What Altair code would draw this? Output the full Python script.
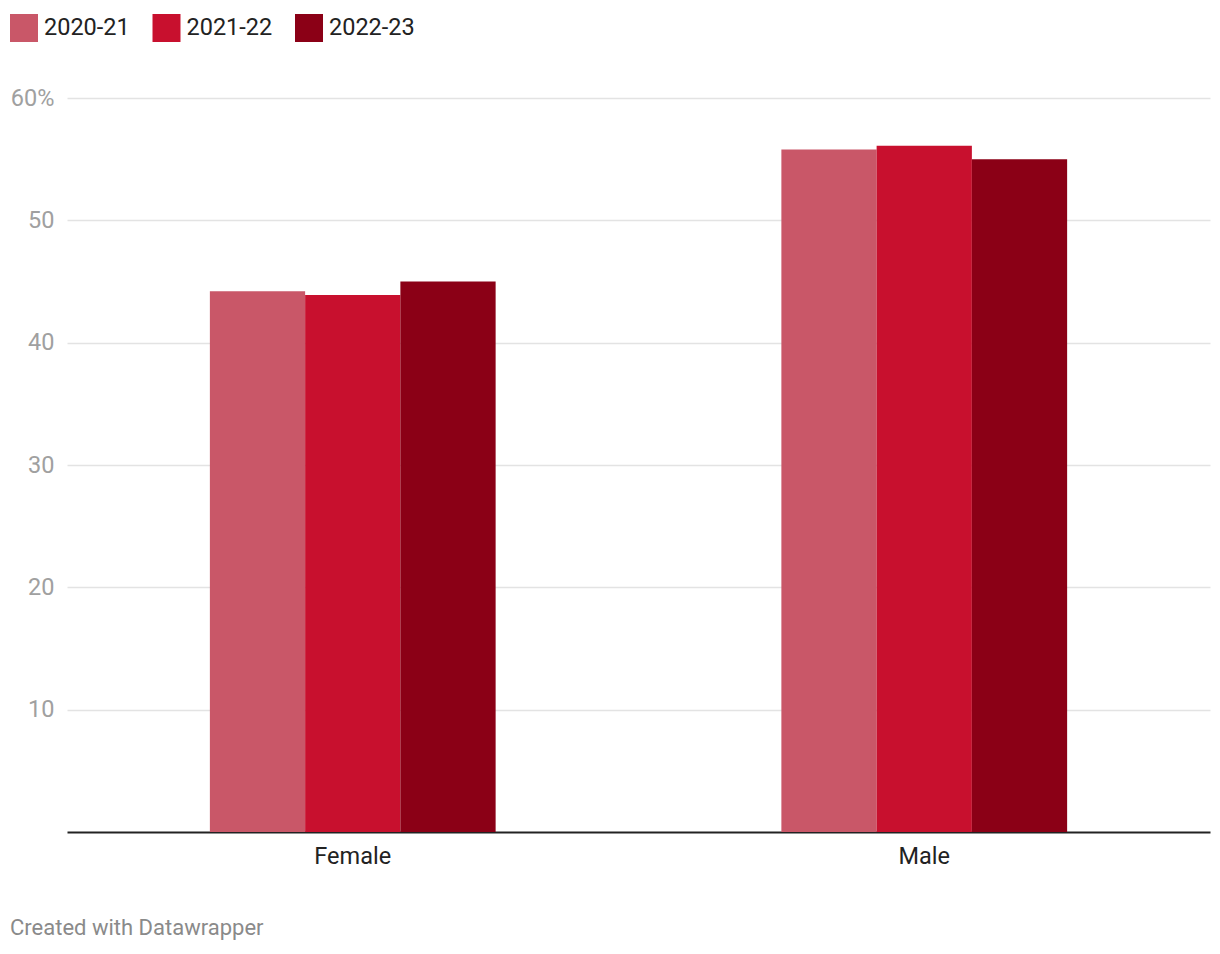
import altair as alt
import pandas as pd

genders = ["Female", "Male"]
years = ["2020-21", "2021-22", "2022-23"]
female_values = [44.2, 43.9, 45.0]
male_values = [55.8, 56.1, 55.0]
colors = ["#c95768", "#c8102e", "#8b0016"]
y_ticks = [10, 20, 30, 40, 50, 60]
footer = "Created with Datawrapper"

rows = []
for g, vals in zip(genders, [female_values, male_values]):
    for y, v in zip(years, vals):
        rows.append({"gender": g, "year": y, "value": v})
df = pd.DataFrame(rows)

FONT = "Roboto"
FS = 23.5

bars = alt.Chart(df).mark_bar(strokeWidth=0).encode(
    x=alt.X("gender:N", sort=genders, title=None,
            scale=alt.Scale(paddingInner=0.5, paddingOuter=0.25),
            axis=alt.Axis(labelAngle=0, labelFontSize=FS, labelColor="#222222",
                          labelFont=FONT, ticks=False, domainColor="#222222",
                          domainWidth=2, labelPadding=12, grid=False)),
    xOffset=alt.XOffset("year:N", sort=years, scale=alt.Scale(paddingInner=0, paddingOuter=0)),
    y=alt.Y("value:Q", title=None,
            scale=alt.Scale(domain=[0, 60], nice=False),
            axis=alt.Axis(values=y_ticks, domain=False, ticks=False,
                          labelExpr="datum.value == 60 ? '60%' : datum.label",
                          labelFontSize=FS, labelColor="#a0a0a0", labelFont=FONT,
                          labelPadding=13, gridColor="#e3e3e3", gridWidth=1.5)),
    color=alt.Color("year:N", sort=years,
                    scale=alt.Scale(domain=years, range=colors),
                    legend=alt.Legend(title=None, orient="none", direction="horizontal",
                                      legendX=-57, legendY=-84,
                                      symbolType="square", symbolSize=784,
                                      symbolStrokeWidth=0, symbolOpacity=1,
                                      labelFontSize=FS, labelFont=FONT,
                                      labelColor="#222222", labelOffset=6,
                                      columnPadding=22.5)),
)

foot = alt.Chart(pd.DataFrame({"t": [footer]})).mark_text(
    align="left", baseline="middle", fontSize=22, font=FONT, color="#8a8a8a"
).encode(text="t:N", x=alt.value(-57), y=alt.value(830))

chart = alt.layer(bars, foot).properties(
    width=1143, height=734,
    autosize=alt.AutoSizeParams(type="none"),
    padding={"left": 67, "top": 98, "right": 10, "bottom": 122},
).configure(font=FONT).configure_view(stroke=None, strokeWidth=0)

chart.save("out.html", embed_options={"renderer": "svg", "actions": False})
